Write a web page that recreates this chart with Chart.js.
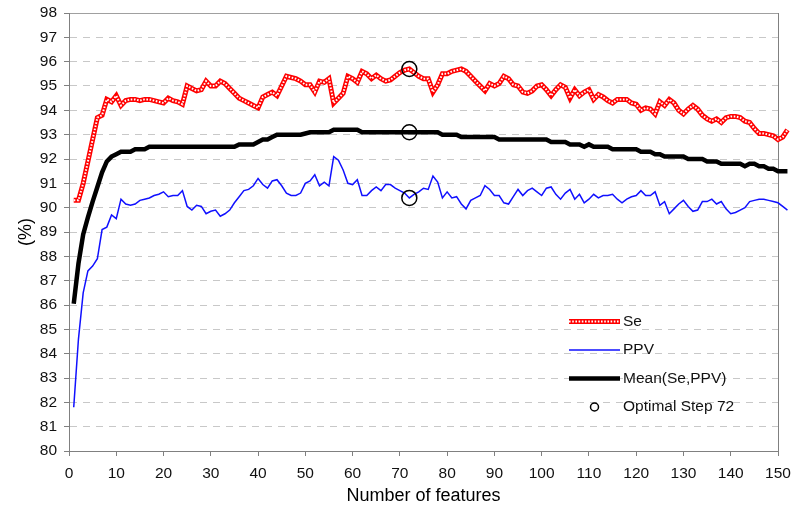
<!DOCTYPE html>
<html>
<head>
<meta charset="utf-8">
<script src="https://cdn.jsdelivr.net/npm/chart.js@4/dist/chart.umd.min.js"></script>
<style>
  html, body { margin: 0; padding: 0; background: #fff; }
  #wrap { width: 792px; height: 514px; }
</style>
</head>
<body>
<div id="wrap"><canvas id="chart" width="792" height="514"></canvas></div>
<script>
// number of features on the x axis (1 .. 152)
const features = Array.from({ length: 152 }, (_, i) => i + 1)

const se = [
  90.3, 90.3, 91.0, 91.9, 92.8, 93.7, 93.8, 94.45, 94.35, 94.6,
  94.2, 94.4, 94.45, 94.45, 94.4, 94.45, 94.45, 94.4, 94.35, 94.3,
  94.5, 94.4, 94.35, 94.25, 95.0, 94.9, 94.8, 94.85, 95.2, 95.0,
  95.0, 95.2, 95.1, 94.9, 94.7, 94.5, 94.4, 94.3, 94.2, 94.1,
  94.55, 94.65, 94.75, 94.6, 95.0, 95.4, 95.35, 95.3, 95.2, 95.05,
  95.05, 94.75, 95.2, 95.15, 95.3, 94.3, 94.5, 94.7, 95.4, 95.3,
  95.15, 95.6, 95.5, 95.3, 95.45, 95.3, 95.2, 95.25, 95.4, 95.55,
  95.65, 95.7, 95.55, 95.4, 95.3, 95.3, 94.75, 95.05, 95.5, 95.5,
  95.6, 95.65, 95.7, 95.6, 95.4, 95.2, 95.0, 94.8, 95.1, 95.0,
  95.1, 95.4, 95.3, 95.05, 95.0, 94.75, 94.7, 94.8, 95.0, 95.05,
  94.85, 94.6, 94.85, 95.05, 94.95, 94.5, 94.85, 94.6, 94.75, 94.85,
  94.45, 94.65, 94.55, 94.4, 94.3, 94.45, 94.45, 94.45, 94.3, 94.25,
  94.0, 94.1, 94.05, 93.85, 94.35, 94.2, 94.45, 94.3, 94.0, 93.85,
  94.05, 94.2, 94.05, 93.8, 93.65, 93.55, 93.65, 93.5, 93.7, 93.75,
  93.75, 93.7, 93.55, 93.5, 93.25, 93.05, 93.05, 93.0, 92.95, 92.8,
  92.9, 93.2
]

const ppv = [
  81.8, 84.6, 86.5, 87.4, 87.6, 87.9, 89.1, 89.2, 89.7, 89.55,
  90.35, 90.15, 90.1, 90.15, 90.3, 90.35, 90.4, 90.5, 90.55, 90.65,
  90.45, 90.5, 90.5, 90.7, 90.05, 89.9, 90.1, 90.05, 89.75, 89.85,
  89.9, 89.65, 89.75, 89.9, 90.2, 90.45, 90.7, 90.75, 90.9, 91.2,
  90.95, 90.8, 91.1, 91.15, 90.9, 90.6, 90.5, 90.5, 90.6, 91.0,
  91.1, 91.35, 90.9, 91.05, 90.9, 92.1, 91.95, 91.55, 91.0, 90.95,
  91.15, 90.5, 90.5, 90.7, 90.85, 90.7, 90.95, 90.95, 90.8, 90.7,
  90.6, 90.4, 90.55, 90.65, 90.8, 90.75, 91.3, 91.05, 90.4, 90.65,
  90.4, 90.45, 90.15, 89.95, 90.3, 90.4, 90.5, 90.9, 90.75, 90.5,
  90.5, 90.2, 90.15, 90.45, 90.75, 90.5, 90.7, 90.8, 90.65, 90.5,
  90.8, 90.85, 90.55, 90.35, 90.6, 90.75, 90.35, 90.55, 90.2, 90.35,
  90.55, 90.4, 90.5, 90.5, 90.55, 90.35, 90.2, 90.35, 90.45, 90.5,
  90.7, 90.5, 90.5, 90.65, 90.1, 90.25, 89.75, 89.95, 90.15, 90.3,
  90.05, 89.85, 89.9, 90.25, 90.25, 90.35, 90.15, 90.25, 89.95, 89.75,
  89.8, 89.9, 90.0, 90.25, 90.3, 90.35, 90.35, 90.3, 90.25, 90.2,
  90.05, 89.9
]

const meanSePpv = [
  86.05, 87.7, 88.9, 89.6, 90.25, 90.85, 91.45, 91.9, 92.1, 92.2,
  92.3, 92.3, 92.3, 92.4, 92.4, 92.4, 92.5, 92.5, 92.5, 92.5,
  92.5, 92.5, 92.5, 92.5, 92.5, 92.5, 92.5, 92.5, 92.5, 92.5,
  92.5, 92.5, 92.5, 92.5, 92.5, 92.6, 92.6, 92.6, 92.6, 92.7,
  92.8, 92.8, 92.9, 93.0, 93.0, 93.0, 93.0, 93.0, 93.0, 93.05,
  93.1, 93.1, 93.1, 93.1, 93.1, 93.2, 93.2, 93.2, 93.2, 93.2,
  93.2, 93.1, 93.1, 93.1, 93.1, 93.1, 93.1, 93.1, 93.1, 93.1,
  93.1, 93.1, 93.1, 93.1, 93.1, 93.1, 93.1, 93.1, 93.0, 93.0,
  93.0, 93.0, 92.9, 92.9, 92.9, 92.9, 92.9, 92.9, 92.9, 92.9,
  92.8, 92.8, 92.8, 92.8, 92.8, 92.8, 92.8, 92.8, 92.8, 92.8,
  92.8, 92.7, 92.7, 92.7, 92.7, 92.6, 92.6, 92.6, 92.5, 92.6,
  92.5, 92.5, 92.5, 92.5, 92.4, 92.4, 92.4, 92.4, 92.4, 92.4,
  92.3, 92.3, 92.3, 92.2, 92.2, 92.1, 92.1, 92.1, 92.1, 92.1,
  92.0, 92.0, 92.0, 92.0, 91.9, 91.9, 91.9, 91.8, 91.8, 91.8,
  91.8, 91.8, 91.7, 91.8, 91.8, 91.7, 91.7, 91.6, 91.6, 91.5,
  91.5, 91.5
]

const optimalStep = 72
const xTicks = [0, 10, 20, 30, 40, 50, 60, 70, 80, 90, 100, 110, 120, 130, 140, 150]
const xMin = 0, xMax = 150
const yMin = 80, yMax = 98

const FONT = '"Liberation Sans", Arial, sans-serif'
const toPoints = values => features.map((f, i) => ({ x: f, y: values[i] }))

// optimal step circles sit on the three curves at x = 72
const k = features.indexOf(optimalStep)
const optimalPoints = [se[k], meanSePpv[k], ppv[k]].map(v => ({ x: optimalStep, y: v }))

// legend drawn inside the plot, lower right (like the original)
const legendItems = [
  { label: 'Se', kind: 'se' },
  { label: 'PPV', kind: 'ppv' },
  { label: 'Mean(Se,PPV)', kind: 'mean' },
  { label: 'Optimal Step 72', kind: 'circle' }
]

const insideLegend = {
  id: 'insideLegend',
  afterDraw(chart) {
    const ctx = chart.ctx
    const x0 = 569, x1 = 620, tx = 623
    ctx.save()
    ctx.font = '15.5px ' + FONT
    ctx.textBaseline = 'middle'
    ctx.textAlign = 'left'
    legendItems.forEach((item, n) => {
      const y = 321.5 + n * 28.5
      ctx.setLineDash([])
      if (item.kind == 'se') {
        ctx.strokeStyle = '#ff0000'; ctx.lineWidth = 5
        ctx.beginPath(); ctx.moveTo(x0, y); ctx.lineTo(x1, y); ctx.stroke()
        ctx.strokeStyle = '#ffffff'; ctx.lineWidth = 2; ctx.setLineDash([1.6, 1.6])
        ctx.beginPath(); ctx.moveTo(x0, y); ctx.lineTo(x1, y); ctx.stroke()
      } else if (item.kind == 'ppv') {
        ctx.strokeStyle = '#1010ff'; ctx.lineWidth = 1.5
        ctx.beginPath(); ctx.moveTo(x0, y); ctx.lineTo(x1, y); ctx.stroke()
      } else if (item.kind == 'mean') {
        ctx.strokeStyle = '#000000'; ctx.lineWidth = 4.5
        ctx.beginPath(); ctx.moveTo(x0, y); ctx.lineTo(x1, y); ctx.stroke()
      } else {
        ctx.strokeStyle = '#000000'; ctx.lineWidth = 1.5
        ctx.beginPath(); ctx.arc((x0 + x1) / 2, y, 4, 0, Math.PI * 2); ctx.stroke()
      }
      ctx.setLineDash([])
      ctx.fillStyle = '#111'
      ctx.fillText(item.label, tx, y)
    })
    ctx.restore()
  }
}

// datasets listed top-most first (chart.js paints index 0 last)
new Chart(document.getElementById('chart'), {
  type: 'line',
  data: {
    datasets: [
      {
        label: 'Optimal Step 72',
        type: 'scatter',
        data: optimalPoints,
        pointStyle: 'circle',
        pointRadius: 7.5,
        pointBorderWidth: 1.5,
        pointBorderColor: '#000000',
        pointBackgroundColor: 'rgba(0,0,0,0)',
        clip: false
      },
      {
        // white dotted core gives the Se line its chain look
        label: 'Se (core)',
        data: toPoints(se),
        borderColor: '#ffffff',
        borderWidth: 2,
        borderDash: [1.6, 1.6],
        pointRadius: 0,
        clip: false
      },
      {
        label: 'Se',
        data: toPoints(se),
        borderColor: '#ff0000',
        borderWidth: 5,
        pointRadius: 0,
        clip: false
      },
      {
        label: 'PPV',
        data: toPoints(ppv),
        borderColor: '#1010ff',
        borderWidth: 1.5,
        pointRadius: 0,
        clip: false
      },
      {
        label: 'Mean(Se,PPV)',
        data: toPoints(meanSePpv),
        borderColor: '#000000',
        borderWidth: 4.5,
        pointRadius: 0,
        clip: false
      }
    ]
  },
  options: {
    responsive: false,
    animation: false,
    events: [],
    layout: { padding: { top: 13, right: 14, left: 0, bottom: 0 } },
    plugins: {
      legend: { display: false },
      tooltip: { enabled: false }
    },
    elements: { line: { tension: 0 } },
    scales: {
      x: {
        type: 'linear',
        bounds: 'data',
        // range set here (not via min/max) so the lines run past 150 like the original
        afterDataLimits: scale => { scale.min = xMin; scale.max = xMax },
        afterBuildTicks: scale => {
          scale.ticks = xTicks.map(v => ({ value: v }))
          scale.min = xMin
          scale.max = xMax
        },
        afterFit: scale => {
          scale.height = 63
          scale.paddingLeft = 0
          scale.paddingRight = 0
        },
        ticks: {
          color: '#111',
          font: { family: FONT, size: 15.5 },
          padding: 8,
          maxRotation: 0
        },
        grid: {
          color: c => (c.tick && c.tick.value === xMax ? '#808080' : 'rgba(0,0,0,0)'),
          tickColor: '#808080',
          tickLength: 5,
          lineWidth: 1
        },
        border: { color: '#808080', width: 1 },
        title: {
          display: true,
          text: 'Number of features',
          color: '#000',
          font: { family: FONT, size: 18 },
          padding: { top: 0, bottom: 7 }
        }
      },
      y: {
        min: yMin,
        max: yMax,
        afterFit: scale => {
          scale.width = 69
          scale.paddingTop = 0
          scale.paddingBottom = 0
        },
        ticks: {
          stepSize: 1,
          color: '#111',
          font: { family: FONT, size: 15.5 },
          padding: 7
        },
        grid: {
          color: c => {
            if (!c.tick) return '#c0c0c0'
            if (c.tick.value === yMax) return '#a0a0a0'
            if (c.tick.value === yMin) return 'rgba(0,0,0,0)'
            return '#c8c8c8'
          },
          tickColor: '#808080',
          tickLength: 5,
          lineWidth: 1
        },
        border: {
          color: '#808080',
          width: 1,
          dash: c => (c.tick && c.tick.value === yMax ? [] : [7, 6])
        },
        title: {
          display: true,
          text: '(%)',
          color: '#000',
          font: { family: FONT, size: 18 },
          padding: { top: 15, bottom: 0 }
        }
      }
    }
  },
  plugins: [insideLegend]
})
</script>
</body>
</html>
